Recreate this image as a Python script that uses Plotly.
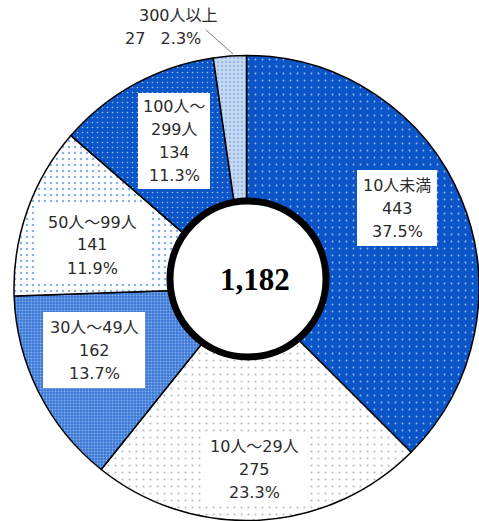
import plotly.graph_objects as go

# Establishment counts by number of employees
categories = ["10人未満", "10人～29人", "30人～49人", "50人～99人", "100人～299人", "300人以上"]
counts = [443, 275, 162, 141, 134, 27]
shares = [37.5, 23.3, 13.7, 11.9, 11.3, 2.3]
total_label = "1,182"

# Slice styling (dotted fills)
base_colors = ["#0b55c9", "#ffffff", "#3b79d6", "#ffffff", "#0b55c9", "#c6d9f3"]
dot_colors = ["#9cc2f4", "#b4bccb", "#86b0ec", "#8ab2ea", "#9cc2f4", "#97b8e8"]
dot_sizes = [7, 7, 3, 6, 5, 4]
dot_solidity = [0.05, 0.07, 0.3, 0.14, 0.08, 0.25]

W, H = 479, 521


def px(x):
    return x / W


def py(y):
    return 1 - y / H


fig = go.Figure()
fig.add_trace(go.Pie(
    labels=categories,
    values=counts,
    sort=False,
    direction="clockwise",
    rotation=0,
    hole=0.28,
    textinfo="none",
    hoverinfo="label+value+percent",
    showlegend=False,
    domain=dict(x=[14 / W, 1], y=[0, 466 / H]),
    marker=dict(
        colors=base_colors,
        line=dict(color="#000000", width=1.5),
        pattern=dict(
            shape=".",
            bgcolor=base_colors,
            fgcolor=dot_colors,
            size=dot_sizes,
            solidity=dot_solidity,
            fillmode="replace",
        ),
    ),
))

shapes = []
annotations = []

# Label boxes: center (px), box size (px), text lines
label_layout = [
    ((397, 208), (80, 76)),
    ((255, 469), (104, 70)),
    ((94, 350), (102, 76)),
    ((92, 245), (112, 78)),
    ((174, 141), (72, 96)),
]
label_lines = [
    ["10人未満"],
    ["10人～29人"],
    ["30人～49人"],
    ["50人～99人"],
    ["100人～", "299人"],
]
LINE = 23
font = dict(family="DejaVu Sans, Noto Sans CJK JP, sans-serif", size=16, color="#2b2b2b")

for i, ((cx, cy), (bw, bh)) in enumerate(label_layout):
    shapes.append(dict(
        type="rect", xref="paper", yref="paper",
        x0=px(cx - bw / 2), x1=px(cx + bw / 2),
        y0=py(cy + bh / 2), y1=py(cy - bh / 2),
        fillcolor="#ffffff", line=dict(width=0), layer="above",
    ))
    lines = label_lines[i] + [f"{counts[i]}", f"{shares[i]:.1f}%"]
    n = len(lines)
    for k, t in enumerate(lines):
        yy = cy + (k - (n - 1) / 2) * LINE
        annotations.append(dict(
            x=px(cx), y=py(yy), xref="paper", yref="paper",
            text=t, showarrow=False, font=font,
            xanchor="center", yanchor="middle",
        ))

# Smallest slice labelled outside with a leader line
annotations.append(dict(x=px(178), y=py(15), xref="paper", yref="paper",
                        text=categories[5], showarrow=False, font=font,
                        xanchor="center", yanchor="middle"))
annotations.append(dict(x=px(163), y=py(39), xref="paper", yref="paper",
                        text=f"{counts[5]}&nbsp;&nbsp;&nbsp;{shares[5]:.1f}%", showarrow=False,
                        font=font, xanchor="center", yanchor="middle"))
shapes.append(dict(type="line", xref="paper", yref="paper",
                   x0=px(206), y0=py(30), x1=px(233), y1=py(54),
                   line=dict(color="#7f7f7f", width=1), layer="above"))

# Centre disc with total
hc, hr = (248, 279), 78
shapes.append(dict(
    type="circle", xref="paper", yref="paper",
    x0=px(hc[0] - hr), x1=px(hc[0] + hr),
    y0=py(hc[1] + hr), y1=py(hc[1] - hr),
    fillcolor="#ffffff", line=dict(color="#000000", width=7), layer="above",
))
annotations.append(dict(
    x=px(hc[0] + 7), y=py(hc[1]), xref="paper", yref="paper",
    text=f"<b>{total_label}</b>", showarrow=False,
    font=dict(family="Liberation Serif, Times New Roman, serif", size=31, color="#000000"),
    xanchor="center", yanchor="middle",
))

fig.update_layout(
    width=W, height=H,
    margin=dict(l=0, r=0, t=0, b=0),
    paper_bgcolor="#ffffff",
    plot_bgcolor="#ffffff",
    shapes=shapes,
    annotations=annotations,
)

fig.write_html("out.html")
